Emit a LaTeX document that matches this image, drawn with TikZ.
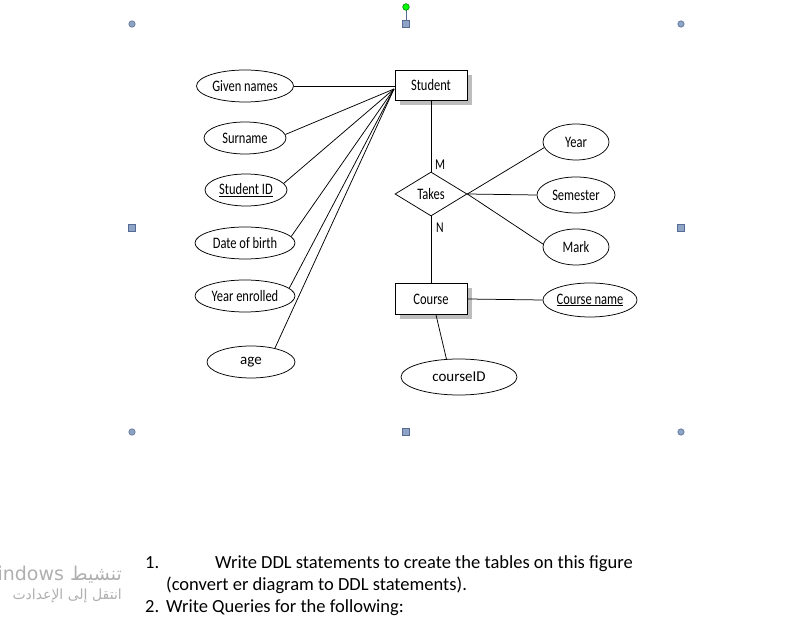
\documentclass[tikz,border=0pt]{standalone}
\usepackage{fontspec}
\setmainfont{Carlito}
\newfontfamily\ercond[FakeStretch=0.78]{Carlito}
\newfontfamily\arabicfont[Script=Arabic]{DejaVu Sans}
\TeXXeTstate=1
\usetikzlibrary{shapes.geometric,positioning,shadows}
\definecolor{handleFill}{RGB}{143,164,196}
\definecolor{handleDraw}{RGB}{84,108,150}
\definecolor{rotGreen}{RGB}{0,255,0}
\definecolor{waterGray}{RGB}{175,175,175}

\begin{document}
\begin{tikzpicture}[x=1pt, y=-1pt, node distance=1.5cm,
	    entity/.style={rectangle, draw, fill=white, line width=0.8pt, minimum width=72pt, minimum height=30pt, font=\ercond\fontsize{16}{18}\selectfont,
	      drop shadow={shadow xshift=5pt, shadow yshift=-5pt, fill=gray!60, opacity=0.85}},
	    attr/.style={ellipse, draw, line width=0.75pt, inner sep=0pt, minimum height=32pt, font=\ercond\fontsize{16}{18}\selectfont},
	    plain/.style={attr, font=\fontsize{15}{17}\selectfont},
	    rel/.style={diamond, draw, line width=0.75pt, inner sep=0pt, aspect=1.6, minimum width=72pt, minimum height=44pt, font=\ercond\fontsize{16}{18}\selectfont},
	    card/.style={font=\ercond\fontsize{15}{17}\selectfont},
	    line/.style={draw, line width=0.75pt},
	    handle/.style={draw=handleDraw, fill=handleFill, line width=0.6pt},
	    doc/.style={anchor=base west, inner sep=0pt, font=\fontsize{18.5}{22}\selectfont},
	    watermark/.style={anchor=base east, inner sep=0pt, text=waterGray}]

	    \useasboundingbox (0,0) rectangle (807,617);
	    \clip (0,0) rectangle (807,617);

	    % selection frame handles
	    \foreach \x/\y in {132/24, 681/24, 132/432, 681/432}
	      \filldraw [handle] (\x,\y) circle (3.2pt);
	    \foreach \x/\y in {406/24, 132/228, 681/228, 406/432}
	      \filldraw [handle] (\x-3.5,\y-3.5) rectangle (\x+3.5,\y+3.5);
	    \draw [handleDraw, line width=1pt] (406,7) -- (406,20.5);
	    \filldraw [draw=green!50!black, fill=rotGreen, line width=0.6pt] (406,7) circle (3.3pt);

	    % entities and relationship
	    \node [entity] (student) at (431,85) {Student};
	    \node [rel, below of=student, node distance=109pt] (takes) {Takes};
	    \node [entity, below of=takes, node distance=105pt, minimum height=31pt] (course) {Course};

	    % attributes
	    \node [attr, minimum width=97pt] (given) at (245,86) {Given names};
	    \node [attr, minimum width=82pt] (surname) at (245,138) {Surname};
	    \node [attr, minimum width=82pt] (sid) at (246,190) {\underline{Student ID}};
	    \node [attr, minimum width=100pt] (dob) at (245,243) {Date of birth};
	    \node [attr, minimum width=100pt] (yenrol) at (245,296) {Year enrolled};
	    \node [plain, minimum width=88pt] (age) at (251,362) {age};
	    \node [attr, minimum width=66pt, minimum height=36pt] (year) at (576,142) {Year};
	    \node [attr, minimum width=78pt, minimum height=36pt] (semester) at (576,195) {Semester};
	    \node [attr, minimum width=66pt, minimum height=36pt] (grade) at (576,247) {Mark};
	    \node [attr, minimum width=94pt, minimum height=34pt] (cname) at (590,300) {\underline{Course name}};
	    \node [plain, minimum width=116pt, minimum height=36pt] (cid) at (459,377) {courseID};

	    % cardinalities
	    \node [card] (m) at (440,165) {M};
	    \node [card] (n) at (440,228) {N};

	    \coordinate (hub) at (394,89);
	    \path [line] (given) -- (given -| student.west);
	    \path [line] (hub) -- (surname.5);
	    \path [line] (hub) -- (sid.10);
	    \path [line] (hub) -- (dob.8);
	    \path [line] (hub) -- (yenrol.10);
	    \path [line] (hub) -- (age.30);
	    \path [line] (student) -- (takes);
	    \path [line] (takes) -- (course);
	    \path [line] (takes.east) -- (year.190);
	    \path [line] (takes.east) -- (semester.west);
	    \path [line] (takes.east) -- (grade.175);
	    \path [line] (course.east) -- (cname.west);
	    \path [line] ([xshift=5pt]course.south) -- (cid.125);

	    % document text
	    \node [doc] (item1) at (145,569) {1.};
	    \node [doc] (item1a) at (215,569) {Write DDL statements to create the tables on this figure};
	    \node [doc] (item1b) at (166,591) {(convert er diagram to DDL statements).};
	    \node [doc] (item2) at (145,613) {2.};
	    \node [doc] (item2a) at (166,613) {Write Queries for the following:};

	    % windows watermark
	    \node [watermark, font=\arabicfont\fontsize{19}{22}\selectfont] (wm1) at (122,581) {\beginR تنشيط \beginL Windows\endL\endR};
	    \node [watermark, font=\arabicfont\fontsize{14}{17}\selectfont] (wm2) at (122,600) {\beginR انتقل إلى الإعدادت\endR};
	\end{tikzpicture}
\end{document}
